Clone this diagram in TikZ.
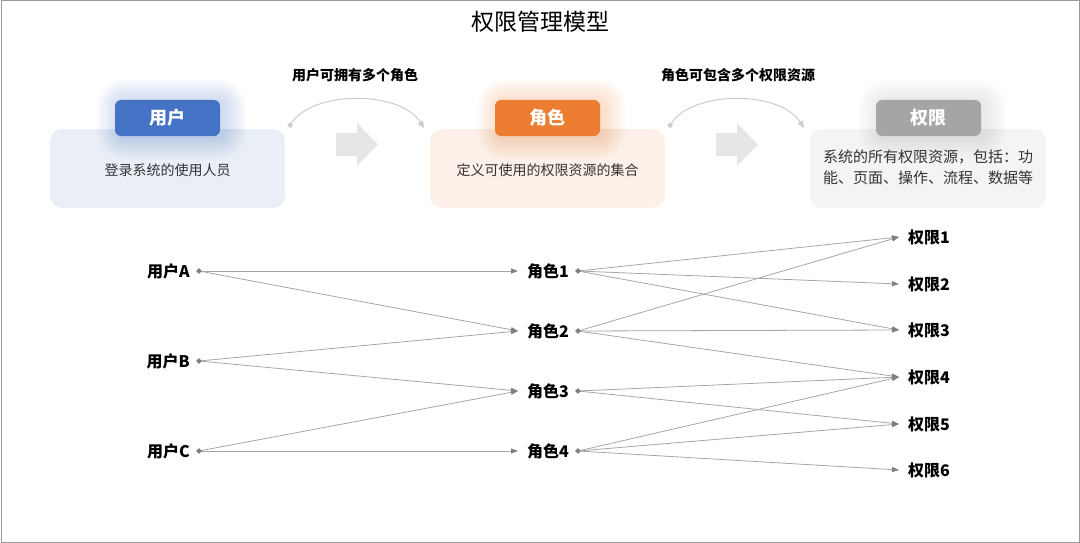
\documentclass[tikz,border=0pt]{standalone}
\usepackage{fontspec}
\setmainfont{Noto Sans CJK SC}
\usetikzlibrary{arrows.meta,shapes.geometric}
\definecolor{ublue}{HTML}{4472C4}
\definecolor{uorange}{HTML}{ED7D31}
\definecolor{ugrey}{HTML}{A5A5A5}
\definecolor{bblue}{HTML}{E9EEF7}
\definecolor{borange}{HTML}{FCF0E8}
\definecolor{bgrey}{HTML}{F4F4F4}
\definecolor{edgec}{HTML}{A6A6A6}
\definecolor{dotc}{HTML}{7F7F7F}
\definecolor{txtc}{HTML}{333333}
\definecolor{blockc}{HTML}{E6E6E6}
\definecolor{arcc}{HTML}{CCCCCC}
\tikzset{
  card/.style={rounded corners=12pt, inner sep=0pt},
  tabbox/.style={rounded corners=6pt, minimum width=105pt, minimum height=36pt, inner sep=0pt, text=white, font=\fontsize{18}{20}\selectfont\bfseries},
  desc/.style={text=txtc, font=\fontsize{14}{21}\selectfont},
  lbl/.style={font=\fontsize{16}{17}\selectfont\bfseries, inner sep=0pt},
  dotn/.style={diamond, fill=dotc, inner sep=0pt, minimum size=6pt},
  link/.style={draw=edgec, line width=0.8pt, -{Triangle[length=7pt,width=5pt,fill=dotc,color=dotc]}},
  arcl/.style={draw=arcc, line width=1pt, {Square[length=4pt,width=4pt,fill=arcc]}-{Triangle[length=7pt,width=6pt,fill=arcc]}},
  blockarrow/.style={fill=blockc, draw=none},
}
\begin{document}
\begin{tikzpicture}[x=1pt,y=-1pt]
\useasboundingbox (0,0) rectangle (1080,543);
\draw[draw=gray!80, line width=1pt] (1,1) rectangle (1079,542);
\node[font=\fontsize{23}{26}\selectfont] (title) at (540,22) {权限管理模型};
% top labels
\node[font=\fontsize{14}{16}\selectfont\bfseries] (l1) at (355,75) {用户可拥有多个角色};
\node[font=\fontsize{14}{16}\selectfont\bfseries] (l2) at (738,75) {角色可包含多个权限资源};
% cards
\fill[bblue, card] (50,129) rectangle (285,208);
\fill[borange, card] (430,129) rectangle (665,208);
\fill[bgrey, card] (810,129) rectangle (1046,208);
% glows
\foreach \cx/\cc in {167.5/ublue,547.5/uorange,928.5/ugrey}{
  \foreach \g in {22,20,...,2}{
    \fill[\cc, opacity=0.022, rounded corners=6pt+\g pt] (\cx-52.5-\g+4,100-\g+1) rectangle (\cx+52.5+\g+4,136+\g+1);
  }
}
\node[tabbox, fill=ublue] (tu) at (167.5,118) {用户};
\node[tabbox, fill=uorange] (tr) at (547.5,118) {角色};
\node[tabbox, fill=ugrey] (tp) at (928.5,118) {权限};
\node[desc] (du) at (167.5,170) {登录系统的使用人员};
\node[desc] (dr) at (547.5,170) {定义可使用的权限资源的集合};
\node[desc, align=left, anchor=north west, inner sep=0pt, font=\fontsize{15}{21}\selectfont] (dp) at (823,150) {系统的所有权限资源，包括：功\\能、页面、操作、流程、数据等};
% arcs
\coordinate (a1s) at (289,127); \coordinate (a1e) at (424,128);
\coordinate (a2s) at (669,127); \coordinate (a2e) at (804,128);
\draw[arcl] (a1s) .. controls (312,90) and (400,90) .. (a1e);
\draw[arcl] (a2s) .. controls (692,90) and (780,90) .. (a2e);
% block arrows
\foreach \bx in {336,716}{
  \fill[blockarrow] (\bx,133) -- (\bx+21,133) -- (\bx+21,123) -- (\bx+42,144.5) -- (\bx+21,166) -- (\bx+21,156) -- (\bx,156) -- cycle;
}
% users
\foreach \n/\t/\y in {uA/用户A/271,uB/用户B/361,uC/用户C/451}{
  \node[lbl, anchor=east] (\n) at (190,\y) {\t};
  \coordinate (\n d) at (199,\y);
}
% roles
\foreach \n/\t/\y in {r1/角色1/271,r2/角色2/331,r3/角色3/391,r4/角色4/451}{
  \node[lbl, anchor=west] (\n) at (527,\y) {\t};
  \coordinate (\n i) at (518,\y);
  \coordinate (\n d) at (578,\y);
}
% permissions
\foreach \n/\t/\y in {p1/权限1/237,p2/权限2/284,p3/权限3/330,p4/权限4/377,p5/权限5/424,p6/权限6/470}{
  \node[lbl, anchor=west] (\n) at (908,\y) {\t};
  \coordinate (\n i) at (899,\y);
}
% user-role links
\foreach \a/\b in {uA/r1,uA/r2,uB/r2,uB/r3,uC/r3,uC/r4}{
  \draw[link] (\a d) -- (\b i);
}
% role-permission links
\foreach \a/\b in {r1/p1,r1/p2,r1/p3,r2/p1,r2/p3,r2/p4,r3/p4,r3/p5,r4/p4,r4/p5,r4/p6}{
  \draw[link] (\a d) -- (\b i);
}
% start dots on top
\foreach \n in {uA,uB,uC,r1,r2,r3,r4}{ \node[dotn] (\n dot) at (\n d) {}; }
\end{tikzpicture}
\end{document}
